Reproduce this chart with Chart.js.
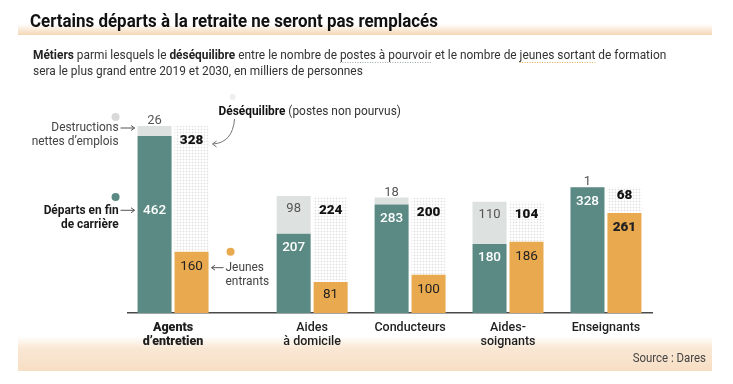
<!DOCTYPE html>
<html>
<head>
<meta charset="utf-8">
<script src="https://cdn.jsdelivr.net/npm/chart.js@4.4.0/dist/chart.umd.min.js"></script>
<style>
  body { margin: 0; background: #fff; }
  #wrap { width: 733px; height: 384px; position: relative; }
</style>
</head>
<body>
<div id="wrap"><canvas id="mycanvas"></canvas></div>
<script>
// donnees (milliers de personnes, 2019-2030)
var metiers = [['Agents', 'd’entretien'], ['Aides', 'à domicile'], 'Conducteurs', ['Aides-', 'soignants'], 'Enseignants'];
var departs = [462, 207, 283, 180, 328];
var destructions = [26, 98, 18, 110, 1];
var jeunes = [160, 81, 100, 186, 261];
var desequilibre = [328, 224, 200, 104, 68];

var green = '#5b8a84', grey = '#dde2e1', orange = '#e9a94f';
var font = "Roboto, sans-serif";
var squeeze = 0.915; // the original type is a condensed face

// first group sits a bit apart from the others
var firstGap = 1.42;
var xPos = metiers.map(function(m, i){ return i === 0 ? 0 : i - 1 + firstGap; });

function pts(values){
	return values.map(function(v, i){ return {x: xPos[i], y: v}; });
}

// dotted fill for the gap
var pc = document.createElement('canvas');
pc.width = 3; pc.height = 3;
var pctx = pc.getContext('2d');
pctx.fillStyle = '#ffffff'; pctx.fillRect(0, 0, 3, 3);
pctx.fillStyle = '#f6f6f6'; pctx.fillRect(0, 0, 3, 1); pctx.fillRect(0, 0, 1, 3);
pctx.fillStyle = '#e0e0e0'; pctx.fillRect(0, 0, 1, 1);
var dots = pctx.createPattern(pc, 'repeat');

// draws condensed text, returns its width
function txt(ctx, s, x, y, align, sx){
	sx = sx || squeeze;
	var w = ctx.measureText(s).width * sx;
	var x0 = align === 'right' ? x - w : (align === 'center' ? x - w / 2 : x);
	ctx.save();
	ctx.textAlign = 'left';
	ctx.translate(x0, y);
	ctx.scale(sx, 1);
	ctx.fillText(s, 0, 0);
	ctx.restore();
	return w;
}

function richText(ctx, parts, x, y){
	parts.forEach(function(p){
		ctx.font = p.font;
		ctx.fillStyle = p.color || '#333';
		var w = txt(ctx, p.text, x, y, 'left');
		if (p.underline){
			ctx.save();
			ctx.strokeStyle = p.underline;
			ctx.lineWidth = 1;
			ctx.setLineDash([1, 1.5]);
			ctx.beginPath();
			ctx.moveTo(x, y + 3.5); ctx.lineTo(x + w, y + 3.5);
			ctx.stroke();
			ctx.restore();
		}
		x += w;
	});
}

function arrow(ctx, x1, y, x2){
	var d = x2 > x1 ? 1 : -1;
	ctx.beginPath();
	ctx.moveTo(x1, y); ctx.lineTo(x2, y);
	ctx.moveTo(x2 - d * 3.5, y - 2.5); ctx.lineTo(x2, y); ctx.lineTo(x2 - d * 3.5, y + 2.5);
	ctx.stroke();
}

function dot(ctx, x, y, r, c){
	ctx.fillStyle = c;
	ctx.beginPath(); ctx.arc(x, y, r, 0, Math.PI * 2); ctx.fill();
}

var decor = {
	id: 'decor',
	beforeDraw: function(chart){
		var ctx = chart.ctx;
		ctx.save();
		ctx.fillStyle = '#fff';
		ctx.fillRect(0, 0, chart.width, chart.height);

		// title band
		var g = ctx.createLinearGradient(0, 24, 0, 35);
		g.addColorStop(0, 'rgba(244,214,180,0)');
		g.addColorStop(1, 'rgba(244,214,180,1)');
		ctx.fillStyle = g;
		ctx.fillRect(18, 24, 694, 11);

		// bottom band
		var g2 = ctx.createLinearGradient(0, 336, 0, 371);
		g2.addColorStop(0, 'rgba(248,226,202,0)');
		g2.addColorStop(0.35, 'rgba(248,226,202,0.8)');
		g2.addColorStop(1, 'rgba(247,222,195,1)');
		ctx.fillStyle = g2;
		ctx.fillRect(18, 336, 694, 35);

		ctx.textBaseline = 'alphabetic';
		ctx.fillStyle = '#111';
		ctx.font = 'bold 18px ' + font;
		txt(ctx, 'Certains départs à la retraite ne seront pas remplacés', 30, 27, 'left', 0.94);

		richText(ctx, [
			{text: 'Métiers', font: 'bold 13px ' + font, color: '#222'},
			{text: ' parmi lesquels le ', font: '13px ' + font, color: '#333'},
			{text: 'déséquilibre', font: 'bold 13px ' + font, color: '#222'},
			{text: ' entre le nombre de ', font: '13px ' + font, color: '#333'},
			{text: 'postes à pourvoir', font: '13px ' + font, color: '#333', underline: '#9aa8a6'},
			{text: ' et le nombre de ', font: '13px ' + font, color: '#333'},
			{text: 'jeunes sortant', font: '13px ' + font, color: '#333', underline: orange},
			{text: ' de formation', font: '13px ' + font, color: '#333'}
		], 33, 59);
		richText(ctx, [
			{text: 'sera le plus grand entre 2019 et 2030, en milliers de personnes', font: '13px ' + font, color: '#333'}
		], 33, 75);

		ctx.font = '12.5px ' + font;
		ctx.fillStyle = '#444';
		txt(ctx, 'Source : Dares', 706, 362, 'right');
		ctx.restore();
	},
	afterDatasetsDraw: function(chart){
		var ctx = chart.ctx;
		ctx.save();
		ctx.textAlign = 'center';
		ctx.textBaseline = 'middle';
		chart.data.datasets.forEach(function(ds, di){
			chart.getDatasetMeta(di).data.forEach(function(bar, i){
				var v = ds.data[i].y, top = bar.y, h = bar.base - bar.y, y;
				if (di === 0){
					y = i === 0 ? top + h * 0.42 : top + 14;
					ctx.fillStyle = '#fff'; ctx.font = '500 13.5px ' + font;
				} else if (di === 1){
					y = h > 20 ? top + Math.min(13, h / 3) : top - 5;
					ctx.fillStyle = '#555'; ctx.font = '400 13px ' + font;
				} else if (di === 2){
					y = top + Math.min(15, h / 2.4);
					ctx.fillStyle = '#222'; ctx.font = (i === 4 ? '900' : '400') + ' 13.5px ' + font;
				} else {
					y = top + Math.min(15, h / 3);
					ctx.fillStyle = '#111'; ctx.font = '900 13.5px ' + font;
				}
				ctx.fillText(String(v), bar.x, y);
			});
		});
		ctx.restore();

		// annotations
		var g0 = chart.getDatasetMeta(0).data[0];
		var o0 = chart.getDatasetMeta(2).data[0];
		var d0 = chart.getDatasetMeta(3).data[0];
		var left = g0.x - g0.width / 2;
		var right = o0.x + o0.width / 2;
		ctx.save();
		ctx.strokeStyle = '#555';
		ctx.lineWidth = 1;
		ctx.textBaseline = 'middle';

		dot(ctx, left - 22, 117, 4, '#d9d9d9');
		ctx.fillStyle = '#444';
		ctx.font = '13px ' + font;
		txt(ctx, 'Destructions', left - 19, 128, 'right');
		txt(ctx, 'nettes d’emplois', left - 19, 142, 'right');
		arrow(ctx, left - 17, 128, left - 3);

		dot(ctx, left - 22, 197, 4, green);
		ctx.fillStyle = '#1a1a1a';
		ctx.font = 'bold 13px ' + font;
		var gy = g0.y + (g0.base - g0.y) * 0.42;
		txt(ctx, 'Départs en fin', left - 19, gy, 'right');
		txt(ctx, 'de carrière', left - 19, gy + 14, 'right');
		arrow(ctx, left - 17, gy, left - 3);

		var oy = o0.y + Math.min(15, (o0.base - o0.y) / 2.4);
		dot(ctx, right + 22, oy - 15, 4, orange);
		ctx.fillStyle = '#444';
		ctx.font = '13px ' + font;
		txt(ctx, 'Jeunes', right + 17, oy + 1, 'left');
		txt(ctx, 'entrants', right + 17, oy + 15, 'left');
		arrow(ctx, right + 15, oy + 1, right + 3);

		var dx = d0.x + d0.width / 2;
		dot(ctx, dx + 24, 97, 3, '#eeeeee');
		ctx.textBaseline = 'alphabetic';
		richText(ctx, [
			{text: 'Déséquilibre', font: 'bold 13px ' + font, color: '#111'},
			{text: ' (postes non pourvus)', font: '13px ' + font, color: '#333'}
		], dx + 10, 115);
		ctx.strokeStyle = '#777';
		ctx.beginPath();
		ctx.moveTo(dx + 26, 119);
		ctx.quadraticCurveTo(dx + 24, 143, dx + 4, 144);
		ctx.stroke();
		ctx.beginPath();
		ctx.moveTo(dx + 8, 141); ctx.lineTo(dx + 4, 144); ctx.lineTo(dx + 8, 147);
		ctx.stroke();
		ctx.restore();
	}
};

var ctx = document.getElementById('mycanvas');

var chart = new Chart(ctx, {
	type: 'bar',
	data: {
		datasets: [
			{label: 'Départs en fin de carrière', data: pts(departs), backgroundColor: green, stack: 'a'},
			{label: 'Destructions nettes d’emplois', data: pts(destructions), backgroundColor: grey, stack: 'a'},
			{label: 'Jeunes entrants', data: pts(jeunes), backgroundColor: orange, stack: 'b'},
			{label: 'Déséquilibre', data: pts(desequilibre), backgroundColor: dots, stack: 'b'}
		]
	},
	options: {
		responsive: true,
		maintainAspectRatio: false,
		animation: false,
		devicePixelRatio: 1,
		categoryPercentage: 0.755,
		barPercentage: 0.92,
		layout: {padding: {left: 128, right: 81, top: 83, bottom: 26}},
		plugins: {legend: {display: false}, tooltip: {enabled: false}},
		scales: {
			x: {
				type: 'linear',
				offset: false,
				min: -0.46,
				max: 4.89,
				stacked: true,
				afterBuildTicks: function(scale){
					scale.ticks = xPos.map(function(v){ return {value: v}; });
				},
				afterFit: function(scale){ scale.height = 45; },
				grid: {display: false, drawTicks: false},
				border: {display: true, color: '#4a4a4a', width: 1.5},
				ticks: {
					autoSkip: false,
					maxRotation: 0,
					padding: 8,
					color: '#1e1e1e',
					callback: function(v, i){ return metiers[i]; },
					font: function(c){
						return c.index === 0
							? {family: 'Roboto', size: 12.5, weight: '900', lineHeight: 1.12}
							: {family: 'Roboto', size: 12.5, weight: '500', lineHeight: 1.12};
					}
				}
			},
			y: {
				display: false,
				stacked: true,
				min: 0,
				max: 600
			}
		}
	},
	plugins: [decor]
});
</script>
</body>
</html>
